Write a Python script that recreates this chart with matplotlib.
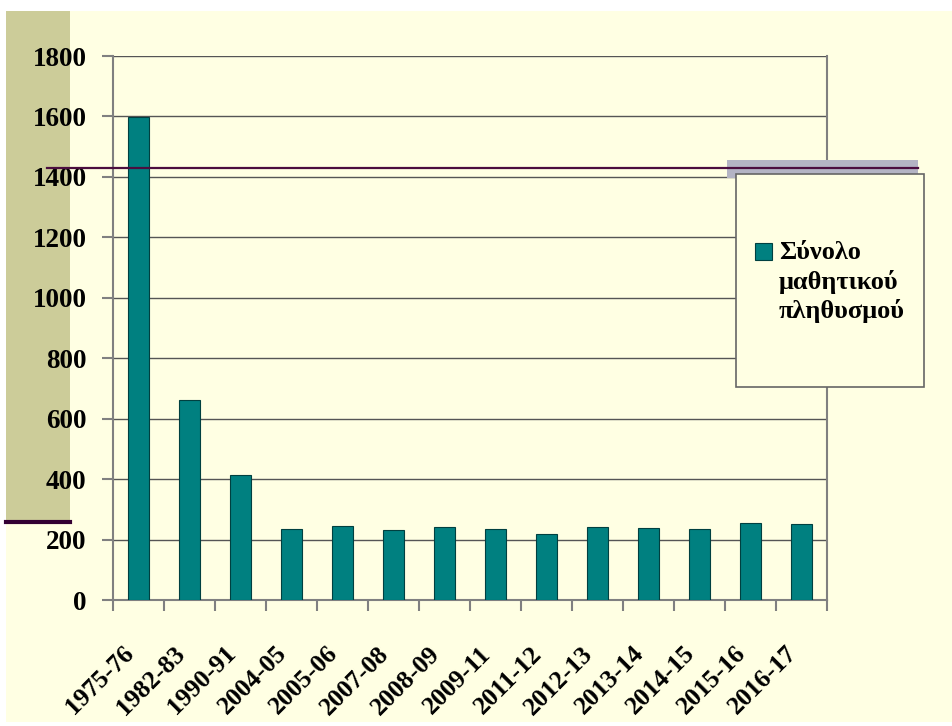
import matplotlib.pyplot as plt
from matplotlib.patches import Rectangle
from matplotlib.lines import Line2D
import numpy as np

# δεδομένα
periodoi = ["1975-76", "1982-83", "1990-91", "2004-05", "2005-06", "2007-08",
            "2008-09", "2009-11", "2011-12", "2012-13", "2013-14", "2014-15",
            "2015-16", "2016-17"]
mathites = [1598, 662, 414, 235, 245, 232, 242, 235, 218, 243, 237, 235, 256, 252]
y_ticks = [0, 200, 400, 600, 800, 1000, 1200, 1400, 1600, 1800]
legend_label = "Σύνολο\nμαθητικού\nπληθυσμού"

W, H = 952, 726
bg = "#FFFFE3"
teal = "#008080"
plt.rcParams['font.family'] = ['Liberation Serif', 'DejaVu Serif']

fig = plt.figure(figsize=(W / 100, H / 100), dpi=100, facecolor="white")

def fx(x):
    return x / W

def fy(y):
    return 1 - y / H

# φόντο και διακοσμητικά
fig.patches.append(Rectangle((fx(6), fy(722)), fx(946), 711 / H, transform=fig.transFigure,
                             facecolor=bg, edgecolor="none", zorder=-2))
fig.patches.append(Rectangle((fx(6), fy(520)), fx(64), 509 / H, transform=fig.transFigure,
                             facecolor="#CCCC99", edgecolor="none", zorder=-1))
fig.lines.append(Line2D([fx(6), fx(70)], [fy(522), fy(522)], transform=fig.transFigure,
                        color="#330033", lw=3, zorder=2))

ax = fig.add_axes([fx(113), fy(600), fx(827 - 113), (600 - 56) / H])
ax.patch.set_alpha(0)

x = np.arange(len(periodoi))
ax.bar(x, mathites, width=0.4, color=teal, edgecolor="#004040", linewidth=0.8, zorder=3)

ax.set_xlim(-0.5, len(periodoi) - 0.5)
ax.set_ylim(0, 1800)
ax.set_yticks(y_ticks)
ax.set_yticklabels([str(v) for v in y_ticks], fontsize=19.5, fontweight="bold")
ax.yaxis.grid(True, color="#555555", lw=1)
ax.set_axisbelow(True)

ax.set_xticks(x - 0.16)
ax.set_xticklabels(periodoi, rotation=45, ha="right", va="center", rotation_mode="anchor",
                   fontsize=18.5, fontweight="bold")
ax.tick_params(axis="x", which="major", length=0, pad=36)
ax.set_xticks(np.arange(-0.5, len(periodoi)), minor=True)
ax.tick_params(axis="x", which="minor", length=8, color="#808080", width=1.5)
ax.tick_params(axis="y", length=8, color="#808080", width=1.5, pad=11)

for s in ["left", "bottom", "right"]:
    ax.spines[s].set_color("#808080")
    ax.spines[s].set_linewidth(1.5)
ax.spines["top"].set_visible(False)

# γραμμή και γκρι λωρίδα πάνω δεξιά
fig.patches.append(Rectangle((fx(727), fy(178)), fx(191), 18 / H, transform=fig.transFigure,
                             facecolor="#B4B4C4", edgecolor="none", zorder=5))
fig.lines.append(Line2D([fx(47), fx(918)], [fy(168), fy(168)], transform=fig.transFigure,
                        color="#4B0D3F", lw=1.6, zorder=6))

# πλαίσιο υπομνήματος
fig.patches.append(Rectangle((fx(736), fy(387)), fx(924 - 736), (387 - 174) / H,
                             transform=fig.transFigure, facecolor=bg, edgecolor="#666666",
                             lw=1.2, zorder=7))
fig.patches.append(Rectangle((fx(755), fy(260)), fx(17), 17 / H, transform=fig.transFigure,
                             facecolor=teal, edgecolor="#004040", lw=0.8, zorder=8))
fig.text(fx(779), fy(241), legend_label, fontsize=19, fontweight="bold", va="top", ha="left",
         linespacing=1.3, zorder=8)

fig.savefig("out.png", dpi=100, facecolor="white")
